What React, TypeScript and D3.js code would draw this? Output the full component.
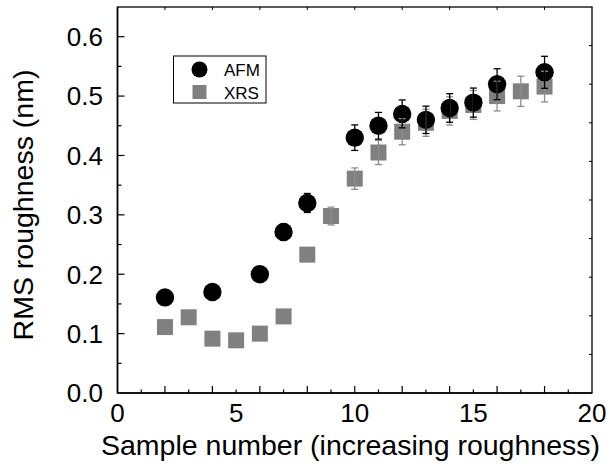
import * as d3 from 'd3'

// AFM measurements
const afmSample = [2, 4, 6, 7, 8, 10, 11, 12, 13, 14, 15, 16, 18]
const afmValue = [0.161, 0.17, 0.2, 0.271, 0.32, 0.43, 0.45, 0.47, 0.46, 0.48, 0.489, 0.52, 0.54]
const afmError = [0.008, 0.0085, 0.01, 0.0135, 0.016, 0.0215, 0.0225, 0.0235, 0.023, 0.024, 0.0245, 0.026, 0.027]

// XRS measurements (error bars only read where they show beyond the marker)
const xrsSample = [2, 3, 4, 5, 6, 7, 8, 9, 10, 11, 12, 13, 14, 15, 16, 17, 18]
const xrsValue = [0.111, 0.1275, 0.0915, 0.0887, 0.1, 0.129, 0.233, 0.298, 0.361, 0.405, 0.44, 0.455, 0.475, 0.485, 0.5, 0.508, 0.516]
const xrsError = [0, 0, 0, 0, 0, 0, 0, 0.015, 0.018, 0.0203, 0.022, 0.0228, 0.0238, 0.0243, 0.025, 0.0254, 0.0258]

const xLabels = [0, 5, 10, 15, 20]
const yLabels = [0, 0.1, 0.2, 0.3, 0.4, 0.5, 0.6]

const W = 610
const H = 470
const m = { top: 7, right: 18, bottom: 77, left: 117.5 }
const FONT = '"Liberation Sans", Arial, sans-serif'

export default function App() {
  const x = d3.scaleLinear().domain([0, 20]).range([m.left, W - m.right])
  const y = d3.scaleLinear().domain([0, 0.65]).range([H - m.bottom, m.top])
  const x0 = x(0), x1 = x(20), y0 = y(0), y1 = y(0.65)

  const bottomTicks = d3.range(1, 20)
  const leftTicks = d3.range(1, 13).map(i => i * 0.05)
  const rightTicks = d3.range(1, 10).map(i => y0 + (y1 - y0) * i / 10)
  const topTicks = d3.range(1, 10).map(i => x0 + (x1 - x0) * i / 10)

  const cap = 3.5

  const bar = (cx: number, v: number, e: number, color: string, key: string) => {
    if (!e) return null
    const top = y(v + e), bot = y(v - e)
    return (
      <g key={key} stroke={color} strokeWidth={1.3}>
        <line x1={cx} x2={cx} y1={top} y2={bot} />
        <line x1={cx - cap} x2={cx + cap} y1={top} y2={top} />
        <line x1={cx - cap} x2={cx + cap} y1={bot} y2={bot} />
      </g>
    )
  }

  return (
    <svg width={W} height={H} style={{ position: 'absolute', left: 0, top: 0, background: '#fff' }} fontFamily={FONT}>
      {/* XRS squares */}
      {xrsSample.map((s, i) => (
        <rect key={'xs' + i} x={x(s) - 8} y={y(xrsValue[i]) - 8} width={16} height={16} fill="#808080" />
      ))}
      {/* AFM circles */}
      {afmSample.map((s, i) => (
        <circle key={'ac' + i} cx={x(s)} cy={y(afmValue[i])} r={9.2} fill="#000" />
      ))}
      {/* error bars */}
      {xrsSample.map((s, i) => bar(x(s), xrsValue[i], xrsError[i], '#8c8c8c', 'xe' + i))}
      {afmSample.map((s, i) => bar(x(s), afmValue[i], afmError[i], '#000', 'ae' + i))}

      {/* frame */}
      <rect x={x0} y={y1} width={x1 - x0} height={y0 - y1} fill="none" stroke="#000" strokeWidth={1.3} />
      <line x1={x0} x2={x0} y1={y1} y2={y0} stroke="#000" strokeWidth={1.6} />
      <line x1={x0} x2={x1} y1={y0} y2={y0} stroke="#000" strokeWidth={1.6} />

      {/* ticks */}
      {bottomTicks.map(t => (
        <line key={'bt' + t} x1={x(t)} x2={x(t)} y1={y0} y2={y0 - (t % 2 === 0 ? 7 : 3.5)} stroke="#000" strokeWidth={1.2} />
      ))}
      {leftTicks.map((t, i) => (
        <line key={'lt' + i} x1={x0} x2={x0 + (i % 2 === 1 ? 7 : 4)} y1={y(t)} y2={y(t)} stroke="#000" strokeWidth={1.2} />
      ))}
      {rightTicks.map((t, i) => (
        <line key={'rt' + i} x1={x1} x2={x1 - 3} y1={t} y2={t} stroke="#000" strokeWidth={1} />
      ))}
      {topTicks.map((t, i) => (
        <line key={'tt' + i} x1={t} x2={t} y1={y1} y2={y1 + 3} stroke="#000" strokeWidth={1} />
      ))}

      {/* tick labels */}
      {xLabels.map(t => (
        <text key={'xl' + t} x={x(t)} y={y0 + 29} textAnchor="middle" fontSize={26} fill="#000">{t}</text>
      ))}
      {yLabels.map(t => (
        <text key={'yl' + t} x={x0 - 14.5} y={y(t) + 9.4} textAnchor="end" fontSize={26} fill="#000">{t.toFixed(1)}</text>
      ))}

      {/* axis titles */}
      <text x={350.5} y={454.5} textAnchor="middle" fontSize={28.5} fill="#000">
        Sample number (increasing roughness)
      </text>
      <text transform={`translate(33,${(68 + 342) / 2}) rotate(-90)`} textAnchor="middle" fontSize={28.5} fill="#000">
        RMS roughness (nm)
      </text>

      {/* legend */}
      <rect x={173.5} y={56} width={92.5} height={47} fill="#fff" stroke="#000" strokeWidth={1} />
      <circle cx={199.5} cy={69.5} r={8} fill="#000" />
      <rect x={192.5} y={85} width={14} height={14} fill="#808080" />
      <text x={224} y={76} fontSize={17} fill="#000">AFM</text>
      <text x={224} y={98.5} fontSize={17} fill="#000">XRS</text>
    </svg>
  )
}
